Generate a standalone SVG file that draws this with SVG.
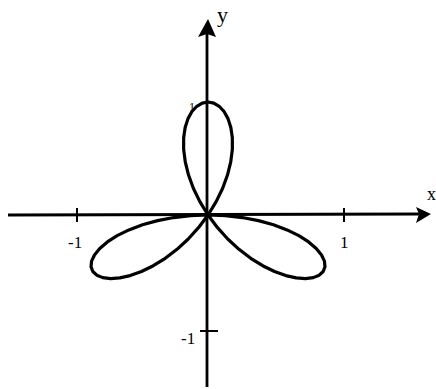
<svg xmlns="http://www.w3.org/2000/svg" width="436" height="389" viewBox="0 0 436 389">
<style>
.ax{stroke:#000;stroke-width:2.8;fill:none}
.tk{stroke:#000;stroke-width:2;fill:none}
.pet{fill:none;stroke:#000;stroke-width:3.2;stroke-linejoin:round;vector-effect:non-scaling-stroke}
.lbl{font-family:"Liberation Serif",serif;fill:#000}
</style>
<defs>
<path id="petal" class="pet" d="M0,0 L0.1158,0.0603 L0.2346,0.1094 L0.3536,0.1464 L0.4698,0.1710 L0.5806,0.1831 L0.6830,0.1830 L0.7746,0.1717 L0.8529,0.1504 L0.9160,0.1206 L0.9623,0.0842 L0.9905,0.0432 L1,0 L0.9905,-0.0432 L0.9623,-0.0842 L0.9160,-0.1206 L0.8529,-0.1504 L0.7746,-0.1717 L0.6830,-0.1830 L0.5806,-0.1831 L0.4698,-0.1710 L0.3536,-0.1464 L0.2346,-0.1094 L0.1158,-0.0603 Z"/>
</defs>
<rect width="436" height="389" fill="#fff"/>
<g id="axes">
<line class="ax" x1="8" y1="215" x2="420" y2="214"/>
<polygon points="431,214 416,207 419,214 416,223" fill="#000"/>
<line class="ax" x1="207" y1="387" x2="207" y2="32"/>
<polygon points="208,19 198,37 207,34 216,37" fill="#000"/>
<line class="tk" x1="77" y1="208" x2="77" y2="222"/>
<line class="tk" x1="344" y1="208" x2="344" y2="222"/>
<line class="tk" x1="200" y1="331" x2="218" y2="331"/>
</g>
<g id="curve" transform="translate(208,215) scale(133,-113)">
<use href="#petal" transform="rotate(90)"/>
<use href="#petal" transform="rotate(210)"/>
<use href="#petal" transform="rotate(330)"/>
</g>
<g id="labels">
<text class="lbl" x="217" y="22" font-size="22" font-family="Liberation Sans,sans-serif">y</text>
<text class="lbl" x="427" y="200" font-size="18">x</text>
<text class="lbl" x="68" y="248" font-size="17">-1</text>
<text class="lbl" x="340" y="248" font-size="17">1</text>
<text class="lbl" x="181" y="344" font-size="17">-1</text>
<text class="lbl" x="189" y="111" font-size="12">1</text>
</g>
</svg>
